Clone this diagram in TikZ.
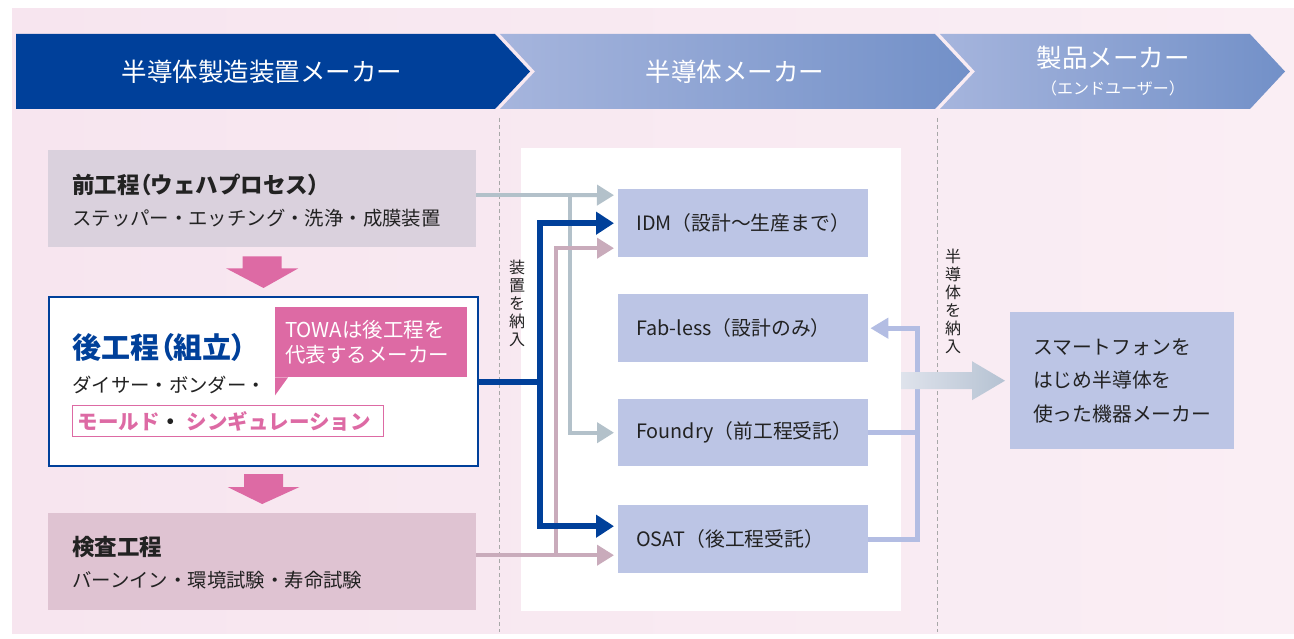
\documentclass[tikz,border=0pt]{standalone}
\usepackage{fontspec}
\setmainfont{Noto Sans CJK JP}
\newfontfamily\myprop[RawFeature=+palt]{Noto Sans CJK JP}
\usetikzlibrary{arrows.meta,calc}
\newcommand\myfs[2]{\fontsize{#1pt}{#2pt}\selectfont}
\newcommand\myLp{{\myprop （}}
\newcommand\myRp{{\myprop ）}}
\definecolor{bgpink}{HTML}{F7E5EF}
\definecolor{bgpinkl}{HTML}{FAEEF4}
\definecolor{dblue}{HTML}{00409A}
\definecolor{hdrl}{HTML}{A6B5DD}
\definecolor{hdrr}{HTML}{7290C8}
\definecolor{grayb}{HTML}{DAD1DD}
\definecolor{mauveb}{HTML}{DFC3D2}
\definecolor{pinkc}{HTML}{DD6AA4}
\definecolor{boxb}{HTML}{BCC5E5}
\definecolor{lgray}{HTML}{B3C1CA}
\definecolor{lmauve}{HTML}{C9ABBB}
\definecolor{lperi}{HTML}{B3BDE3}
\definecolor{dashc}{HTML}{A8A8A8}
\definecolor{txt}{HTML}{222222}
\definecolor{bigl}{HTML}{DFE3EC}
\definecolor{bigr}{HTML}{B5C2D2}
\begin{document}
\begin{tikzpicture}[x=1pt,y=-1pt,
  lbox/.style={anchor=north west, minimum width=428pt, minimum height=97pt, inner sep=0pt},
  ltitle/.style={anchor=west, inner sep=0pt, font=\bfseries\myfs{22.5}{26}, text=txt},
  lsub/.style={anchor=west, inner sep=0pt, font=\myfs{19.4}{24}, text=txt},
  mbox/.style={anchor=north west, fill=boxb, minimum width=250pt, minimum height=68pt, inner xsep=18pt, inner ysep=0pt, text width=214pt, align=left, font=\myfs{19.8}{24}, text=txt},
  htext/.style={text=white, inner sep=0pt},
  vtext/.style={align=center, font=\myfs{16}{18}, text=txt, inner sep=0pt},
  dashline/.style={draw=dashc, line width=0.8pt, dash pattern=on 4pt off 3pt},
  gline/.style={draw=lgray, line width=4pt},
  mline/.style={draw=lmauve, line width=4pt},
  bline/.style={draw=dblue, line width=6pt},
  pline/.style={draw=lperi, line width=5pt},
  tipsm/.style={-{Triangle[length=17pt,width=20pt]}, shorten >=4pt},
  tipbig/.style={-{Triangle[length=18pt,width=22pt]}, shorten >=4pt},
  tipperi/.style={-{Triangle[length=18pt,width=20pt]}, shorten >=2pt}
]
\useasboundingbox (0,0) rectangle (1294,639);
% background
\shade[left color=bgpink, right color=bgpinkl] (12,9) rectangle (1294,633);
% header arrows
\fill[dblue] (16,34) -- (495,34) -- (530,71.5) -- (495,109) -- (16,109) -- cycle;
\shade[left color=hdrl, right color=hdrr] (500,34) -- (935,34) -- (970,71.5) -- (935,109) -- (500,109) -- (535,71.5) -- cycle;
\shade[left color=hdrl, right color=hdrr] (940,34) -- (1250,34) -- (1285,71.5) -- (1250,109) -- (940,109) -- (975,71.5) -- cycle;
\node[htext, font=\myfs{25.5}{28}] (h1) at (262,72) {半導体製造装置メーカー};
\node[htext, font=\myfs{25.5}{28}] (h2) at (735,72) {半導体メーカー};
\node[htext, font=\myfs{25.5}{28}] (h3) at (1113,58) {製品メーカー};
\node[htext, font=\myfs{16}{20}] (h3b) at (1113,88) {（エンドユーザー）};
% dashed separators
\draw[dashline] (499,118) -- (499,632);
\draw[dashline] (937,118) -- (937,632);
% white panel
\node[fill=white, anchor=north west, minimum width=380pt, minimum height=463pt, inner sep=0pt] (panel) at (521,148) {};
% left boxes
\node[lbox, fill=grayb] (front) at (48,150) {};
\node[ltitle] (frontT) at (72,185) {前工程\myLp ウェハプロセス\myRp};
\node[lsub] (frontS) at (72,218) {ステッパー・エッチング・洗浄・成膜装置};
\node[lbox, draw=dblue, line width=2pt, fill=white, minimum width=429pt, minimum height=169pt] (back) at (48,296) {};
\node[anchor=west, inner sep=0pt, font=\bfseries\myfs{29}{32}, text=dblue] (backT) at (72,347) {後工程\myLp 組立\myRp};
\node[lsub] (backS) at (72,385) {ダイサー・ボンダー・};
\node[anchor=north west, draw=pinkc, line width=1pt, fill=white, minimum width=311pt, minimum height=31pt, inner xsep=5pt, inner ysep=0pt, text width=301pt, align=left, font=\bfseries\myfs{20.5}{24}] (mold) at (72,405) {{\color{pinkc}モールド}\hspace{1pt}{\color{txt}・}\hspace{6pt}{\color{pinkc}シンギュレーション}};
\node[anchor=north west, fill=pinkc, minimum width=192pt, minimum height=70pt, inner xsep=10pt, inner ysep=0pt, text width=172pt, align=left, text=white, font=\myfs{20.5}{25}] (towa) at (275,307) {TOWAは後工程を\\代表するメーカー};
\fill[pinkc] (towa.south west) -- ++(0,18) -- ($(towa.south west)+(13,0)$) -- cycle;
\node[lbox, fill=mauveb] (insp) at (48,513) {};
\node[ltitle] (inspT) at (72,547) {検査工程};
\node[lsub] (inspS) at (72,580) {バーンイン・環境試験・寿命試験};
% pink block arrows
\fill[pinkc] ($(front.south)+(-19.5,9)$) -- ($(front.south)+(19.5,9)$) -- ($(front.south)+(19.5,21)$) -- ($(front.south)+(36,21)$) -- ($(back.north)+(0,-8)$) -- ($(front.south)+(-36,21)$) -- ($(front.south)+(-19.5,21)$) -- cycle;
\fill[pinkc] ($(back.south)+(-19.5,7)$) -- ($(back.south)+(19.5,7)$) -- ($(back.south)+(19.5,20)$) -- ($(back.south)+(36,20)$) -- ($(insp.north)+(0,-9)$) -- ($(back.south)+(-36,20)$) -- ($(back.south)+(-19.5,20)$) -- cycle;
% middle boxes
\node[mbox] (idm) at (618,189) {IDM（設計～生産まで）};
\node[mbox] (fab) at (618,294) {Fab-less（設計のみ）};
\node[mbox, minimum height=67pt] (found) at (618,399) {Foundry（前工程受託）};
\node[mbox] (osat) at (618,505) {OSAT（後工程受託）};
% end user box
\node[anchor=north west, fill=boxb, minimum width=224pt, minimum height=137pt, align=left, font=\myfs{19.8}{33.5}, text=txt] (euser) at (1010,312) {スマートフォンを\\はじめ半導体を\\使った機器メーカー};
% vertical labels
\node[vtext] (v1) at (517,303) {装\\置\\を\\納\\入};
\node[vtext] (v2) at (953,301) {半\\導\\体\\を\\納\\入};
% connectors
\coordinate (gJ) at (570,195);
\coordinate (bJ) at (540,0);
\coordinate (mJ) at (556,0);
\coordinate (pJ) at (917,0);
\coordinate (gT) at ($(idm.west)+(0,-28)$);
\coordinate (mT) at ($(idm.west)+(0,25)$);
\coordinate (bO) at ($(osat.west)+(0,-13)$);
\coordinate (mO) at ($(osat.west)+(0,16)$);
% gray (front-end)
\draw[gline] (front.east |- gJ) -- (gJ);
\draw[gline, tipsm] (gJ) -- (gT);
\draw[gline, tipsm] (gJ) |- (found.west);
% mauve (inspection)
\draw[mline, tipsm] (insp.east |- mO) -- (mO);
\draw[mline, tipsm] (mJ |- mO) |- (mT);
% blue (back-end)
\draw[bline] (back.east) -- (back.east -| bJ);
\draw[bline, tipbig] (back.east -| bJ) |- (idm.west);
\draw[bline, tipbig] (back.east -| bJ) |- (bO);
% periwinkle (return to fab-less)
\draw[pline] (found.east) -- (found.east -| pJ);
\draw[pline, tipperi] (osat.east) -| (pJ |- fab.east) -- (fab.east);
% big faded arrow to end user
\shade[left color=bigl, right color=bigr] ($(euser.west)+(-109,-8.5)$) -- ($(euser.west)+(-38,-8.5)$) -- ($(euser.west)+(-38,-19.5)$) -- ($(euser.west)+(-5,0)$) -- ($(euser.west)+(-38,19.5)$) -- ($(euser.west)+(-38,8.5)$) -- ($(euser.west)+(-109,8.5)$) -- cycle;
\end{tikzpicture}
\end{document}
